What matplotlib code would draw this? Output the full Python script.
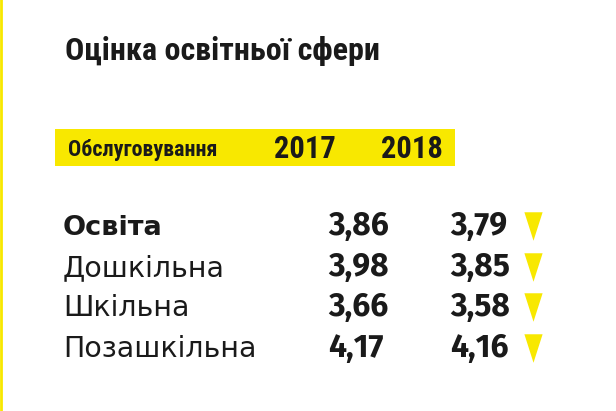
import matplotlib
matplotlib.use("Agg")
import matplotlib.pyplot as plt
from matplotlib import font_manager as fm

# ---- data ----
title = "Оцінка освітньої сфери"
header_label = "Обслуговування"
years = ["2017", "2018"]
categories = ["Освіта", "Дошкільна", "Шкільна", "Позашкільна"]
values_2017 = [3.86, 3.98, 3.66, 4.17]
values_2018 = [3.79, 3.85, 3.58, 4.16]
bold_rows = [True, False, False, False]

YELLOW = "#F8E800"
INK = "#1a1a1a"

avail = {f.name for f in fm.fontManager.ttflist}
def pick(cands):
    for c in cands:
        if c in avail:
            return c
    return "DejaVu Sans"

COND = pick(["Roboto Condensed", "Liberation Sans Narrow", "DejaVu Sans Condensed", "Open Sans Condensed", "Roboto"])
HUM = pick(["Fira Sans", "Open Sans", "Noto Sans", "Lato", "DejaVu Sans"])
WIDE = pick(["DejaVu Sans", "Noto Sans"])

W, H = 616, 411
fig = plt.figure(figsize=(W / 100, H / 100), dpi=100)
ax = fig.add_axes([0, 0, 1, 1])
ax.set_xlim(0, W)
ax.set_ylim(H, 0)
ax.axis("off")
fig.patch.set_facecolor("white")

# left yellow edge line
ax.axvline(0.8, color=YELLOW, lw=2)

# title
ax.text(65, 60, title, fontsize=23, fontweight="bold", family=[COND, "DejaVu Sans"],
        color=INK, va="baseline", ha="left")

# header bar
ax.add_patch(plt.Rectangle((55, 129), 400, 37, color=YELLOW, lw=0))
ax.text(68, 156, header_label, fontsize=15.8, fontweight="bold", family=[COND, "DejaVu Sans"],
        color=INK, va="baseline", ha="left")
col_x = [304.5, 411.5]
for x, y in zip(col_x, years):
    ax.text(x, 158, y, fontsize=22, fontweight="bold", family=[COND, "DejaVu Sans"],
            color=INK, va="baseline", ha="center")

# rows
row_base0, row_step = 235, 40.7
val_x = [328, 450]
tri_x = 533
for i, (cat, v1, v2, b) in enumerate(zip(categories, values_2017, values_2018, bold_rows)):
    yb = row_base0 + i * row_step
    ax.text(63, yb, cat, fontsize=19.5 if b else 20.5, fontweight="bold" if b else "normal",
            family=[WIDE, "DejaVu Sans"], color=INK, va="baseline", ha="left")
    for x, v in zip(val_x, (v1, v2)):
        ax.text(x, yb, f"{v:.2f}".replace(".", ","), fontsize=23, fontweight="bold",
                family=[HUM, "DejaVu Sans"], color=INK, va="baseline", ha="left")
    if v2 != v1:
        down = v2 < v1
        verts = [(-0.32, 0.5), (0.32, 0.5), (0, -0.5)] if down else [(-0.32, -0.5), (0.32, -0.5), (0, 0.5)]
        ax.scatter([tri_x], [yb - 9], marker=verts, s=20.5 ** 2, color=YELLOW, lw=0, zorder=3)

fig.savefig("out.png", dpi=100, facecolor="white")
